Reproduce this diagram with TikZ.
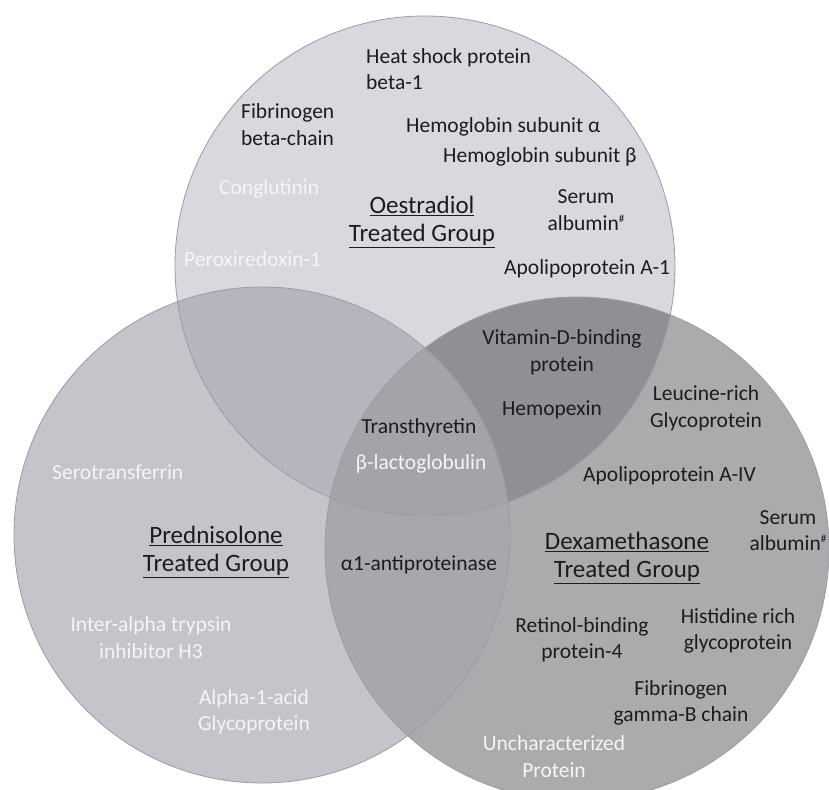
\documentclass[tikz,border=0pt]{standalone}
\usepackage{fontspec}
\setmainfont{Carlito}
\definecolor{cT}{HTML}{D8D9DF}
\definecolor{cL}{HTML}{C4C5CA}
\definecolor{cR}{HTML}{ABABAD}
\definecolor{cTL}{HTML}{B5B6BD}
\definecolor{cTR}{HTML}{8F8F94}
\definecolor{cLR}{HTML}{A7A8AD}
\definecolor{cTLR}{HTML}{A3A3A9}
\definecolor{edge}{HTML}{9C9CA2}
\definecolor{txtdark}{HTML}{1C1C1C}
\definecolor{txtwhite}{HTML}{F5F5F7}
\newcommand{\hashsup}{\raisebox{0.75ex}{\fontsize{11}{11}\selectfont\#}}
\begin{document}
\begin{tikzpicture}[x=1pt,y=-1pt,
  lab/.style={font=\fontsize{21.5}{26.5}\selectfont, text=txtdark, inner sep=0pt, align=center},
  wlab/.style={lab, text=txtwhite},
  ttl/.style={font=\fontsize{25}{27.5}\selectfont, text=txtdark, inner sep=0pt, align=center},
  ring/.style={draw=edge, line width=0.8pt}]
\useasboundingbox (0,0) rectangle (829,789);
\fill[white] (0,0) rectangle (829,789);
\begin{scope}
\clip (0,0) rectangle (829,789);
% base circles
\fill[cT] (425,266) circle[radius=250pt];
\fill[cL] (262,535) circle[radius=248pt];
\fill[cR] (577,549) circle[radius=252pt];
% pairwise overlaps
\begin{scope}
  \clip (425,266) circle[radius=250pt];
  \fill[cTL] (262,535) circle[radius=248pt];
  \fill[cTR] (577,549) circle[radius=252pt];
\end{scope}
\begin{scope}
  \clip (262,535) circle[radius=248pt];
  \fill[cLR] (577,549) circle[radius=252pt];
  \clip (425,266) circle[radius=250pt];
  \fill[cTLR] (577,549) circle[radius=252pt];
\end{scope}
% outlines
\draw[ring] (425,266) circle[radius=250pt];
\draw[ring] (262,535) circle[radius=248pt];
\draw[ring] (577,549) circle[radius=252pt];
\end{scope}

% Oestradiol circle
\node[lab, anchor=west, align=left] (hsp) at (366,69) {Heat shock protein\\beta-1};
\node[lab, anchor=west, align=left] (fbc) at (241,124.5) {Fibrinogen\\beta-chain};
\node[lab, anchor=west] (hba) at (406,127) {Hemoglobin subunit α};
\node[lab, anchor=west] (hbb) at (443,157) {Hemoglobin subunit β};
\node[wlab, anchor=west] (cong) at (219,189) {Conglutinin};
\node[ttl] (oes) at (422,222) {\underline{Oestradiol}\\\underline{Treated Group}};
\node[lab] (sa1) at (586,210) {Serum\\albumin\hashsup};
\node[wlab, anchor=west] (prx) at (184,259) {Peroxiredoxin-1};
\node[lab, anchor=west] (apoa1) at (504,269) {Apolipoprotein A-1};

% overlaps
\node[lab] (vdbp) at (562,352.5) {Vitamin-D-binding\\protein};
\node[lab] (hpx) at (552,410) {Hemopexin};
\node[lab] (ttr) at (419,428) {Transthyretin};
\node[wlab] (blg) at (421,464) {β-lactoglobulin};
\node[lab] (a1ap) at (419,565) {α1-antiproteinase};

% Dexamethasone circle
\node[lab] (lrg) at (706,408.5) {Leucine-rich\\Glycoprotein};
\node[lab, anchor=west] (apoa4) at (583,476) {Apolipoprotein A-IV};
\node[lab] (sa2) at (788,530.5) {Serum\\albumin\hashsup};
\node[ttl] (dex) at (627,558) {\underline{Dexamethasone}\\\underline{Treated Group}};
\node[lab] (rbp) at (582,640) {Retinol-binding\\protein-4};
\node[lab] (hrg) at (738,631) {Histidine rich\\glycoprotein};
\node[lab] (fgb) at (681,703) {Fibrinogen\\gamma-B chain};
\node[wlab] (unc) at (554,756.5) {Uncharacterized\\Protein};

% Prednisolone circle
\node[wlab, anchor=west] (stf) at (52,472) {Serotransferrin};
\node[ttl] (pred) at (216,552) {\underline{Prednisolone}\\\underline{Treated Group}};
\node[wlab] (itih) at (151,637.5) {Inter-alpha trypsin\\inhibitor H3};
\node[wlab] (agp) at (254,712) {Alpha-1-acid\\Glycoprotein};
\end{tikzpicture}
\end{document}
